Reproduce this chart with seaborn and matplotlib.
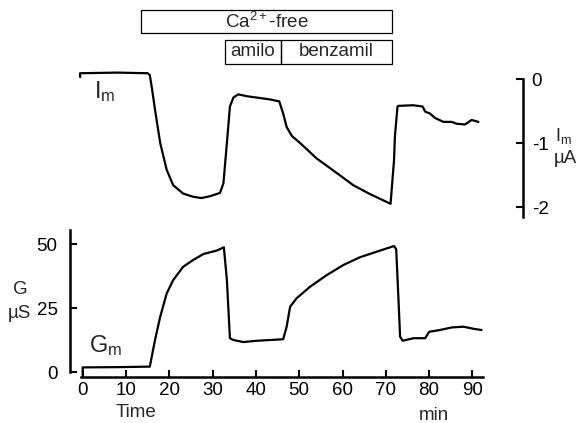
import matplotlib
matplotlib.use("Agg")
import matplotlib.pyplot as plt
import seaborn as sns
import pandas as pd
from matplotlib.patches import Rectangle

# ---------------- data ----------------
im_time = [-0.6, -0.6, 8, 15.0, 15.5, 16.0, 16.7, 17.9, 19.4, 20.9, 23.2, 25.5, 27.4, 29.5,
           31.7, 32.5, 33.3, 34.0, 34.8, 35.9, 38.0, 40.2, 43.3, 45.4, 46.3, 47.1, 48.3, 50.2,
           54.0, 58.7, 62.5, 66.4, 71.1, 71.9, 72.1, 72.7, 72.9, 76.3, 78.5, 79.1, 80.2, 81.4,
           83.3, 85.2, 86.4, 88.3, 89.8, 91.4]
im_vals = [0.03, 0.09, 0.10, 0.09, 0.06, -0.15, -0.48, -1.0, -1.42, -1.66, -1.79, -1.84, -1.86, -1.83,
           -1.78, -1.63, -1.0, -0.43, -0.29, -0.24, -0.27, -0.29, -0.32, -0.35, -0.54, -0.75, -0.89, -1.0,
           -1.24, -1.47, -1.66, -1.80, -1.95, -1.27, -0.90, -0.43, -0.42, -0.41, -0.43, -0.51, -0.54, -0.61,
           -0.67, -0.67, -0.70, -0.71, -0.64, -0.67]

gm_time = [0, 0, 8, 15.5, 16.7, 17.9, 19.4, 20.9, 23.2, 25.5, 27.9, 30.9, 32.6, 33.3, 34.0, 34.8,
           37.1, 40.2, 43.3, 46.3, 47.1, 47.9, 49.4, 52.5, 56.4, 60.2, 64.0, 67.9, 71.9, 72.4, 72.9,
           73.3, 73.9, 76.4, 79.1, 80.0, 82.5, 85.2, 87.9, 90.2, 92.1]
gm_vals = [-1.8, 1.8, 1.9, 2.1, 12.5, 21.6, 30.7, 35.9, 41.1, 43.75, 46.1, 47.4, 48.7, 35.9, 13.2, 12.5,
           11.7, 12.2, 12.5, 12.8, 17.7, 25.5, 28.8, 33.3, 37.9, 41.8, 44.8, 47.0, 49.2, 48.0, 29.4,
           13.8, 12.2, 13.2, 13.2, 15.7, 16.4, 17.4, 17.7, 16.9, 16.4]

x_ticks = [0, 10, 20, 30, 40, 50, 60, 70, 80, 90]
g_ticks = [0, 25, 50]
i_ticks = [0, -1, -2]

# solution periods (min): label, start, end, row
periods_label = ["Ca$^{\\mathregular{2+}}$-free", "amilo", "benzamil"]
periods_start = [13.4, 32.9, 45.7]
periods_end = [71.5, 45.7, 71.5]
periods_row = [0, 1, 1]

# ---------------- style ----------------
sns.set_theme(style="ticks")
plt.rcParams["font.family"] = ["Liberation Sans", "DejaVu Sans"]
plt.rcParams["mathtext.fontset"] = "custom"
plt.rcParams["mathtext.rm"] = "Liberation Sans"
plt.rcParams["mathtext.it"] = "Liberation Sans:italic"
plt.rcParams["mathtext.bf"] = "Liberation Sans:bold"
plt.rcParams["axes.unicode_minus"] = False

W, H = 582, 423
fig = plt.figure(figsize=(W / 100, H / 100), dpi=100)
fig.patch.set_facecolor("white")

def rect(l, t, r, b):
    return [l / W, 1 - b / H, (r - l) / W, (b - t) / H]

def fx(px):
    return px / W

def fy(py):
    return 1 - py / H

# time mapping: t = (px - 82.7) / 4.33
def t_of(px):
    return (px - 82.7) / 4.33

# ---------------- bottom panel (G) ----------------
axb = fig.add_axes(rect(70, 230, 483, 376.7))
dfg = pd.DataFrame({"t": gm_time, "G": gm_vals})
sns.lineplot(data=dfg, x="t", y="G", ax=axb, color="black", lw=1.6,
             estimator=None, sort=False)
axb.set_xlim(t_of(70), t_of(483))
axb.set_ylim((372 - 376.7) / 2.56, (372 - 230) / 2.56)
axb.set_xlabel("")
axb.set_ylabel("")
axb.set_facecolor("none")
for s in ["top", "right"]:
    axb.spines[s].set_visible(False)
for s in ["left", "bottom"]:
    axb.spines[s].set_linewidth(1.8)
    axb.spines[s].set_color("black")
axb.spines["bottom"].set_bounds(-0.3, t_of(483))
axb.spines["left"].set_bounds(0, (372 - 230) / 2.56)
axb.set_xticks(x_ticks)
axb.set_xticklabels([str(v) for v in x_ticks])
axb.set_yticks(g_ticks)
axb.set_yticklabels([str(v) for v in g_ticks])
axb.tick_params(axis="x", direction="in", length=5, width=1.5, pad=3.5,
                labelsize=13.5, colors="black")
axb.tick_params(axis="y", direction="in", length=5, width=1.5, pad=9,
                labelsize=13.5, colors="black")

fig.text(fx(136), fy(412), "Time", ha="center", va="center", fontsize=13.5)
fig.text(fx(434), fy(415), "min", ha="center", va="center", fontsize=13.5)
fig.text(fx(89), fy(352), "G$_{\\mathregular{m}}$", ha="left", va="baseline", fontsize=17)
fig.text(fx(20), fy(290), "G", ha="center", va="center", fontsize=13.5)
fig.text(fx(19), fy(314), "µS", ha="center", va="center", fontsize=13.5)

# ---------------- top panel (I) ----------------
axt = fig.add_axes(rect(70, 66, 523.3, 217))
dfi = pd.DataFrame({"t": im_time, "I": im_vals})
sns.lineplot(data=dfi, x="t", y="I", ax=axt, color="black", lw=1.6,
             estimator=None, sort=False)
axt.set_xlim(t_of(70), t_of(523.3))
axt.set_ylim((79 - 217) / 64, (79 - 66) / 64)
axt.set_xlabel("")
axt.set_ylabel("")
axt.set_facecolor("none")
for s in ["top", "left", "bottom"]:
    axt.spines[s].set_visible(False)
axt.spines["right"].set_linewidth(1.8)
axt.spines["right"].set_color("black")
axt.spines["right"].set_bounds((79 - 217) / 64, 0)
axt.yaxis.tick_right()
axt.set_xticks([])
axt.set_yticks(i_ticks)
axt.set_yticklabels([str(v) for v in i_ticks])
axt.tick_params(axis="y", direction="in", length=5, width=1.5, pad=6,
                labelsize=13.5, colors="black")

fig.text(fx(94), fy(98.5), "I$_{\\mathregular{m}}$", ha="left", va="baseline", fontsize=17)
fig.text(fx(555), fy(141), "I$_{\\mathregular{m}}$", ha="left", va="baseline", fontsize=13)
fig.text(fx(554), fy(163), "µA", ha="left", va="baseline", fontsize=13.5)

# solution bars above the traces
row_y = [((79 - 33.3) / 64, (79 - 10) / 64), ((79 - 64) / 64, (79 - 40) / 64)]
for lab, a, b, r in zip(periods_label, periods_start, periods_end, periods_row):
    y0, y1 = row_y[r]
    axt.add_patch(Rectangle((a, y0), b - a, y1 - y0, fill=False, edgecolor="black",
                            lw=0.9, clip_on=False))
    axt.text((a + b) / 2, (y0 + y1) / 2, lab, ha="center", va="center",
             fontsize=13.5, clip_on=False)

fig.savefig("out.png", dpi=100, facecolor="white")
